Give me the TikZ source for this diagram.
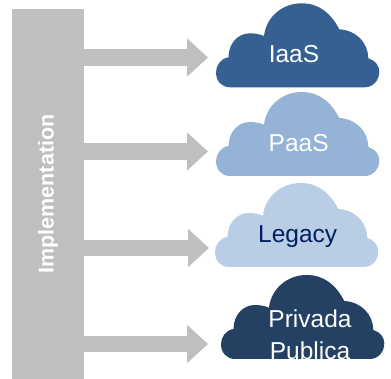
\documentclass[tikz,border=0pt]{standalone}
\usepackage{fontspec}
\setmainfont{Liberation Sans}
\usepackage{tikz}
\usepackage{xcolor}
\usetikzlibrary{arrows.meta}

\definecolor{barGray}{HTML}{BFBFBF}
\definecolor{cloudA}{HTML}{376092}
\definecolor{cloudB}{HTML}{95B3D7}
\definecolor{cloudC}{HTML}{B9CDE5}
\definecolor{cloudD}{HTML}{244062}
\definecolor{legacyText}{HTML}{002060}

\tikzset{
    blockarrow/.style={draw=barGray, line width=16.5pt, -{Triangle[length=21pt, width=37pt]}},
    cloudlabel/.style={font=\fontsize{24.5}{31.7}\selectfont, text=white, align=center, inner sep=0pt},
    pics/cloudshape/.style={code={
        \fill[pic actions] (14,0) -- (149,0)
            .. controls (157,0) and (163.3,7) .. (163.3,15.6)
            .. controls (163.3,22) and (159,27) .. (152.3,29)
            .. controls (152,45) and (140,57) .. (123.3,58)
            .. controls (115,74) and (103,84) .. (85.7,84)
            .. controls (66,84) and (50,70) .. (48,51.3)
            .. controls (44,53) and (39,54) .. (34,54)
            .. controls (22,54) and (12.5,44) .. (12.5,30)
            .. controls (5,29) and (0,22) .. (0,15)
            .. controls (0,6) and (6,0) .. (14,0) -- cycle;
    }}
}

\begin{document}
\begin{tikzpicture}[x=1pt, y=1pt]
        \useasboundingbox (0,0) rectangle (391,379);

        \node[fill=barGray, rotate=90, minimum width=370, minimum height=72, inner sep=0pt, text=white, font=\fontsize{21.5}{26}\bfseries\selectfont] (bar) at (48,185) {Implementation};

        \pic[fill=cloudA] at (216,291.7) {cloudshape};
        \pic[fill=cloudB] at (216,203) {cloudshape};
        \pic[fill=cloudC] at (215,112) {cloudshape};
        \pic[fill=cloudD] at (221,20) {cloudshape};

        \node[cloudlabel, anchor=base] (iaas) at (294,316.3) {IaaS};
        \node[cloudlabel, anchor=base] (paas) at (298.7,227) {PaaS};
        \node[cloudlabel, anchor=base, text=legacyText] (legacy) at (297.7,136.3) {Legacy};
        \node[cloudlabel] (cloud) at (310,44) {Privada\\Publica};

        \coordinate (tip1) at (208,321.5);
        \coordinate (tip2) at (208,227.5);
        \coordinate (tip3) at (209,131);
        \coordinate (tip4) at (208,35);

        \draw[blockarrow] (bar.south |- tip1) -- (tip1);
        \draw[blockarrow] (bar.south |- tip2) -- (tip2);
        \draw[blockarrow] (bar.south |- tip3) -- (tip3);
        \draw[blockarrow] (bar.south |- tip4) -- (tip4);
    \end{tikzpicture}
\end{document}
